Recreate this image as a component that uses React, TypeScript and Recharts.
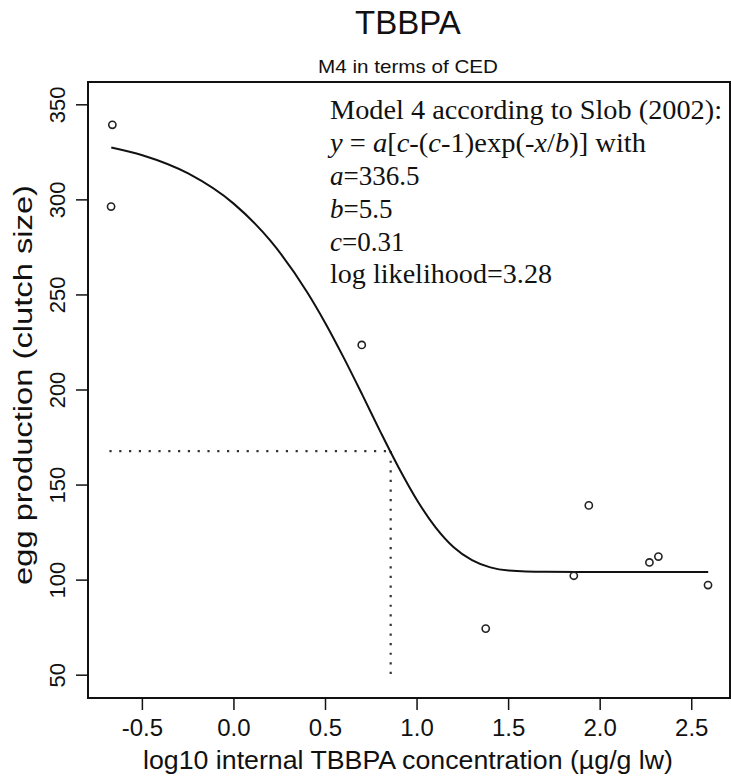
import React from "react";
import {
  ComposedChart,
  Line,
  Scatter,
  XAxis,
  YAxis,
  ReferenceLine,
  ReferenceArea,
} from "recharts";

// Observed data points (log10 concentration, clutch size)
const POINT_X = [-0.664, -0.671, 0.698, 1.375, 1.856, 1.938, 2.269, 2.318, 2.589];
const POINT_Y = [339.5, 296.5, 223.7, 74.5, 102.3, 139.3, 109.3, 112.4, 97.4];

// Fitted curve
const CURVE_X = [-0.67, -0.5, -0.25, 0, 0.2, 0.4, 0.5, 0.6, 0.7, 0.8, 0.9, 1.0, 1.1, 1.2, 1.3, 1.4, 1.5, 1.7, 2.0, 2.3, 2.59];
const CURVE_Y = [327.6, 323.5, 313.9, 297.9, 278.4, 251.4, 235.0, 216.9, 197.7, 178.0, 159.1, 142.0, 127.9, 117.3, 110.5, 106.7, 105.1, 104.4, 104.3, 104.3, 104.3];

// CED marker
const CED_X = 0.856;
const CED_Y = 167.9;
const CED_START_X = -0.68;

const X_TICKS = [-0.5, 0, 0.5, 1, 1.5, 2, 2.5];
const Y_TICKS = [50, 100, 150, 200, 250, 300, 350];
const X_DOMAIN = [-0.797, 2.709];
const Y_DOMAIN = [38, 362];

const points = POINT_X.map((x, i) => ({ x, y: POINT_Y[i] }));
const curve = CURVE_X.map((x, i) => ({ x, y: CURVE_Y[i] }));

const W = 731;
const H = 782;
const PLOT_LEFT = 88;
const PLOT_RIGHT = 730;
const PLOT_TOP = 82;
const PLOT_BOTTOM = 698;

const sans = "'Liberation Sans', Arial, Helvetica, sans-serif";
const serif = "'Liberation Serif', 'Times New Roman', serif";

const OpenCircle = (props: any) => {
  const { cx, cy } = props;
  if (cx == null || cy == null) return null;
  return <circle cx={cx} cy={cy} r={3.6} fill="none" stroke="#222" strokeWidth={1.6} />;
};

const XTick = (props: any) => {
  const { x, payload } = props;
  return (
    <text x={x} y={736} textAnchor="middle" fontFamily={sans} fontSize={24} fill="#111">
      {Number(payload.value).toFixed(1)}
    </text>
  );
};

const YTick = (props: any) => {
  const { y, payload } = props;
  const bx = 65;
  return (
    <text
      x={bx}
      y={y}
      transform={`rotate(-90 ${bx} ${y})`}
      textAnchor="middle"
      fontFamily={sans}
      fontSize={22}
      fill="#111"
    >
      {payload.value}
    </text>
  );
};

export default function App() {
  const annX = 330;
  const annY0 = 119.3;
  const annDy = 32.8;
  const annSize = 27;
  return (
    <div style={{ position: "absolute", left: 0, top: 0, width: W, height: H, background: "#fff" }}>
      <ComposedChart
        width={W}
        height={H}
        margin={{ top: PLOT_TOP, right: W - PLOT_RIGHT, bottom: 0, left: 0 }}
      >
        <XAxis
          type="number"
          dataKey="x"
          domain={X_DOMAIN}
          ticks={X_TICKS}
          allowDataOverflow
          height={H - PLOT_BOTTOM}
          axisLine={false}
          tickLine={{ stroke: "#111", strokeWidth: 1.5 }}
          tickSize={12}
          tick={<XTick />}
        />
        <YAxis
          type="number"
          dataKey="y"
          domain={Y_DOMAIN}
          ticks={Y_TICKS}
          allowDataOverflow
          width={PLOT_LEFT}
          axisLine={false}
          tickLine={{ stroke: "#111", strokeWidth: 1.5 }}
          tickSize={12}
          tick={<YTick />}
        />
        <ReferenceArea
          x1={X_DOMAIN[0]}
          x2={X_DOMAIN[1]}
          y1={Y_DOMAIN[0]}
          y2={Y_DOMAIN[1]}
          fill="none"
          fillOpacity={0}
          stroke="#111"
          strokeWidth={2}
          ifOverflow="visible"
        />
        <ReferenceLine
          segment={[
            { x: CED_START_X, y: CED_Y },
            { x: CED_X, y: CED_Y },
          ]}
          stroke="#333"
          strokeWidth={2.2}
          strokeDasharray="2.2 7.6"
        />
        <ReferenceLine
          segment={[
            { x: CED_X, y: CED_Y },
            { x: CED_X, y: 50 },
          ]}
          stroke="#333"
          strokeWidth={2.2}
          strokeDasharray="2.2 7.4"
        />
        <Line
          data={curve}
          dataKey="y"
          type="monotone"
          stroke="#111"
          strokeWidth={2}
          dot={false}
          activeDot={false}
          isAnimationActive={false}
        />
        <Scatter data={points} dataKey="y" shape={<OpenCircle />} isAnimationActive={false} />
      </ComposedChart>
      <svg
        width={W}
        height={H}
        style={{ position: "absolute", left: 0, top: 0, pointerEvents: "none" }}
      >
        <text x={408} y={34} textAnchor="middle" fontFamily={sans} fontSize={33} fill="#111">
          TBBPA
        </text>
        <text
          x={408}
          y={73}
          textAnchor="middle"
          fontFamily={sans}
          fontSize={18.5}
          fill="#111"
          textLength={180}
          lengthAdjust="spacingAndGlyphs"
        >
          M4 in terms of CED
        </text>
        <text
          x={408}
          y={769}
          textAnchor="middle"
          fontFamily={sans}
          fontSize={25}
          fill="#111"
          textLength={530}
          lengthAdjust="spacingAndGlyphs"
        >
          log10 internal TBBPA concentration (µg/g lw)
        </text>
        <text
          x={32}
          y={385}
          transform="rotate(-90 32 385)"
          textAnchor="middle"
          fontFamily={sans}
          fontSize={25}
          fill="#111"
          textLength={400}
          lengthAdjust="spacingAndGlyphs"
        >
          egg production (clutch size)
        </text>
        <g fontFamily={serif} fontSize={annSize} fill="#111">
          <text x={annX} y={annY0} textLength={392} lengthAdjust="spacingAndGlyphs">
            Model 4 according to Slob (2002):
          </text>
          <text x={annX} y={annY0 + annDy} textLength={316} lengthAdjust="spacingAndGlyphs">
            <tspan fontStyle="italic">y</tspan> = <tspan fontStyle="italic">a</tspan>[
            <tspan fontStyle="italic">c</tspan>-(<tspan fontStyle="italic">c</tspan>-1)exp(-
            <tspan fontStyle="italic">x</tspan>/<tspan fontStyle="italic">b</tspan>)] with
          </text>
          <text x={annX} y={annY0 + annDy * 2}>
            <tspan fontStyle="italic">a</tspan>=336.5
          </text>
          <text x={annX} y={annY0 + annDy * 3}>
            <tspan fontStyle="italic">b</tspan>=5.5
          </text>
          <text x={annX} y={annY0 + annDy * 4}>
            <tspan fontStyle="italic">c</tspan>=0.31
          </text>
          <text x={annX} y={annY0 + annDy * 5} textLength={222} lengthAdjust="spacingAndGlyphs">
            log likelihood=3.28
          </text>
        </g>
      </svg>
    </div>
  );
}
